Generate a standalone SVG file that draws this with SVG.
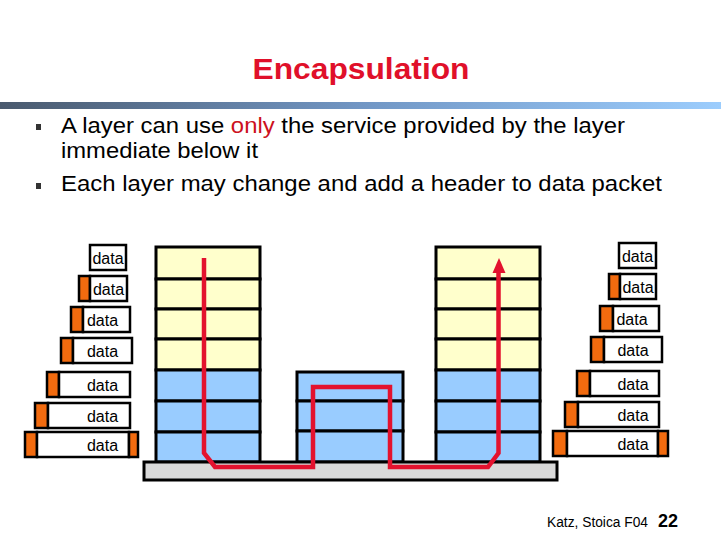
<svg xmlns="http://www.w3.org/2000/svg" width="721" height="541" viewBox="0 0 721 541">
<defs>
<linearGradient id="bar" x1="0" y1="0" x2="1" y2="0">
<stop offset="0" stop-color="#4a5a6e"/>
<stop offset="0.5" stop-color="#7196c4"/>
<stop offset="1" stop-color="#9ccdfd"/>
</linearGradient>
</defs>
<style>
text{font-family:"Liberation Sans",Arial,sans-serif;}
.title{font-size:30px;font-weight:bold;fill:#e0102a;}
.bul{font-size:22.5px;fill:#000;}
.y{fill:#ffffcc;stroke:#000;stroke-width:3;}
.b{fill:#99ccff;stroke:#000;stroke-width:3;}
.base{fill:#d9d9d9;stroke:#000;stroke-width:3;}
.hd{fill:#f26b0f;stroke:#000;stroke-width:2.5;}
.bx{fill:#fff;stroke:#000;stroke-width:2.5;}
.dt{font-size:16px;text-anchor:middle;fill:#000;}
.path{fill:none;stroke:#e3122e;stroke-width:4.5;stroke-linejoin:miter;}
</style>
<rect width="721" height="541" fill="#fff"/>
<text class="title" x="361" y="79" text-anchor="middle" textLength="217" lengthAdjust="spacingAndGlyphs">Encapsulation</text>
<rect x="0" y="102" width="721" height="7" fill="url(#bar)"/>
<g id="bullets">
<rect x="36" y="124" width="5" height="6" fill="#333"/>
<text class="bul" x="61" y="133" textLength="564" lengthAdjust="spacingAndGlyphs">A layer can use <tspan fill="#cc1020">only</tspan> the service provided by the layer</text>
<text class="bul" x="61" y="158" textLength="197" lengthAdjust="spacingAndGlyphs">immediate below it</text>
<rect x="36" y="183" width="5" height="6" fill="#333"/>
<text class="bul" x="61" y="191" textLength="601" lengthAdjust="spacingAndGlyphs">Each layer may change and add a header to data packet</text>
</g>
<g id="left-stack">
<rect class="y" x="156" y="247" width="104" height="32"/>
<rect class="y" x="156" y="279" width="104" height="30"/>
<rect class="y" x="156" y="309" width="104" height="30"/>
<rect class="y" x="156" y="339" width="104" height="31"/>
<rect class="b" x="156" y="370" width="104" height="31"/>
<rect class="b" x="156" y="401" width="104" height="31"/>
<rect class="b" x="156" y="432" width="104" height="30"/>
</g>
<g id="middle-stack">
<rect class="b" x="297" y="372" width="106" height="29"/>
<rect class="b" x="297" y="401" width="106" height="30"/>
<rect class="b" x="297" y="431" width="106" height="31"/>
</g>
<g id="right-stack">
<rect class="y" x="436" y="247" width="104" height="32"/>
<rect class="y" x="436" y="279" width="104" height="30"/>
<rect class="y" x="436" y="309" width="104" height="30"/>
<rect class="y" x="436" y="339" width="104" height="31"/>
<rect class="b" x="436" y="370" width="104" height="31"/>
<rect class="b" x="436" y="401" width="104" height="31"/>
<rect class="b" x="436" y="432" width="104" height="30"/>
</g>
<g id="base">
<rect class="base" x="144" y="462" width="413" height="18"/>
</g>
<g id="connectors">
<path class="path" d="M204,258 V453 L215,467 H313 V387 H390 V467 H488 L498.5,453 V270"/>
<polygon points="499,258 492.5,273 505.5,273" fill="#e3122e"/>
</g>
<g id="left-packets">
<g id="L1"><rect class="bx" x="90" y="245" width="36" height="25"/><text class="dt" x="108" y="264">data</text></g>
<g id="L2"><rect class="hd" x="79" y="276" width="11" height="25"/><rect class="bx" x="90" y="276" width="37" height="25"/><text class="dt" x="108.5" y="295">data</text></g>
<g id="L3"><rect class="hd" x="71" y="307" width="12" height="25"/><rect class="bx" x="83" y="307" width="47" height="25"/><text class="dt" x="102.5" y="326">data</text></g>
<g id="L4"><rect class="hd" x="61" y="338" width="12" height="25"/><rect class="bx" x="73" y="338" width="59" height="25"/><text class="dt" x="102.5" y="357">data</text></g>
<g id="L5"><rect class="hd" x="47" y="372" width="12" height="25"/><rect class="bx" x="59" y="372" width="71" height="25"/><text class="dt" x="102.5" y="391">data</text></g>
<g id="L6"><rect class="hd" x="35" y="403" width="13" height="25"/><rect class="bx" x="48" y="403" width="82" height="25"/><text class="dt" x="102.5" y="422">data</text></g>
<g id="L7"><rect class="hd" x="25" y="432" width="12" height="25"/><rect class="bx" x="37" y="432" width="92" height="25"/><rect class="hd" x="129" y="432" width="9" height="25"/><text class="dt" x="102.5" y="451">data</text></g>
</g>
<g id="right-packets">
<g id="R1"><rect class="bx" x="619" y="243" width="37" height="25"/><text class="dt" x="637.5" y="262">data</text></g>
<g id="R2"><rect class="hd" x="609" y="274" width="11" height="25"/><rect class="bx" x="620" y="274" width="36" height="25"/><text class="dt" x="638" y="293">data</text></g>
<g id="R3"><rect class="hd" x="600" y="306" width="13" height="25"/><rect class="bx" x="613" y="306" width="46" height="25"/><text class="dt" x="632" y="325">data</text></g>
<g id="R4"><rect class="hd" x="591" y="337" width="13" height="25"/><rect class="bx" x="604" y="337" width="58" height="25"/><text class="dt" x="633" y="356">data</text></g>
<g id="R5"><rect class="hd" x="577" y="371" width="13" height="25"/><rect class="bx" x="590" y="371" width="69" height="25"/><text class="dt" x="633" y="390">data</text></g>
<g id="R6"><rect class="hd" x="565" y="402" width="13" height="25"/><rect class="bx" x="578" y="402" width="81" height="25"/><text class="dt" x="633" y="421">data</text></g>
<g id="R7"><rect class="hd" x="553" y="431" width="14" height="25"/><rect class="bx" x="567" y="431" width="91" height="25"/><rect class="hd" x="658" y="431" width="10" height="25"/><text class="dt" x="633" y="450">data</text></g>
</g>
<text x="547" y="527" font-size="14" fill="#000" textLength="101" lengthAdjust="spacingAndGlyphs">Katz, Stoica F04</text>
<text x="658" y="527" font-size="18" font-weight="bold" fill="#000">22</text>
</svg>
